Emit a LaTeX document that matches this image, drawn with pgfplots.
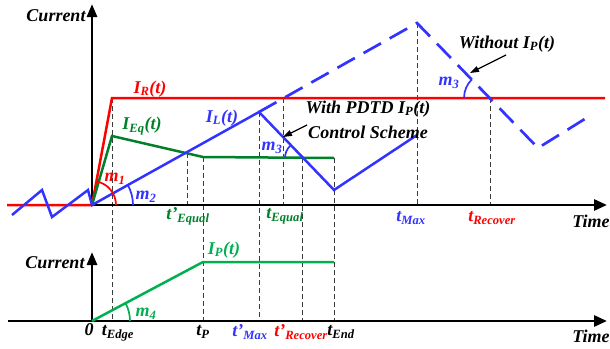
\documentclass[border=0pt]{standalone}
\usepackage{fontspec}
\setmainfont{Liberation Serif}
\usepackage{pgfplots}
\pgfplotsset{compat=1.18}
\usetikzlibrary{arrows.meta}

\definecolor{cRed}{RGB}{255,0,0}
\definecolor{cBlue}{RGB}{51,51,255}
\definecolor{cGreen}{RGB}{0,128,40}
\definecolor{cLight}{RGB}{0,176,80}
\definecolor{cGuide}{RGB}{60,60,60}

\newcommand\lab{\fontsize{18}{20}\selectfont\bfseries\itshape}
\newcommand\sbs[1]{\textsubscript{#1}}

\begin{document}
\begin{tikzpicture}
\path[use as bounding box] (0,0) rectangle (610pt,348pt);
\begin{axis}[
  at={(0,0)}, anchor=south west,
  scale only axis, width=610pt, height=348pt,
  xmin=0, xmax=610, ymin=0, ymax=348,
  y dir=reverse, hide axis, clip=false,
  guide/.style={cGuide, line width=0.9pt, dash pattern=on 5pt off 3pt},
]
% time markers
\addplot[guide] coordinates {(112,98) (112,321)};
\addplot[guide] coordinates {(187,153) (187,205)};
\addplot[guide] coordinates {(203,157) (203,321)};
\addplot[guide] coordinates {(259,112) (259,321)};
\addplot[guide] coordinates {(283,98) (283,205)};
\addplot[guide] coordinates {(302,158) (302,321)};
\addplot[guide] coordinates {(334,158) (334,321)};
\addplot[guide] coordinates {(417,23) (417,205)};
\addplot[guide] coordinates {(490,98) (490,205)};

% axes
\draw[line width=2.8pt, -{Triangle[length=13pt,width=11pt]}] (axis cs:92,205) -- (axis cs:607,205);
\draw[line width=2.8pt, -{Triangle[length=13pt,width=10pt]}] (axis cs:92,205) -- (axis cs:92,4);
\draw[line width=2.8pt, -{Triangle[length=13pt,width=11pt]}] (axis cs:8,321) -- (axis cs:607,321);
\draw[line width=2.8pt, -{Triangle[length=13pt,width=10pt]}] (axis cs:92,321) -- (axis cs:92,252);

% reference current I_R
\addplot[cRed, line width=2.5pt] coordinates {(7,205) (92,205) (112,98) (605,98)};
% equivalent current I_Eq
\addplot[cGreen, line width=2.5pt] coordinates {(92,205) (112,136) (203,157) (334,158)};
% inductor current with PDTD control
\addplot[cBlue, line width=2.5pt] coordinates {(12,215) (42,190) (52,217) (88,190) (92,205) (259,112) (334,190) (417,135)};
% inductor current without I_P
\addplot[cBlue, line width=2.7pt, dash pattern=on 20pt off 10pt] coordinates {(259,112) (417,23) (538,148) (588,117)};
% injected current I_P
\addplot[cLight, line width=2.5pt] coordinates {(92,321) (203,262) (334,262)};

% slope arcs
\draw[cRed, line width=1.7pt] (axis cs:92,205) ++(0:24pt) arc[start angle=0, end angle=79, radius=24pt];
\draw[cBlue, line width=1.7pt] (axis cs:92,205) ++(0:41pt) arc[start angle=0, end angle=29, radius=41pt];
\draw[cLight, line width=1.7pt] (axis cs:92,321) ++(0:38pt) arc[start angle=0, end angle=28, radius=38pt];
\draw[cBlue, line width=1.7pt] (axis cs:302,158) ++(180:17pt) arc[start angle=180, end angle=134, radius=17pt];
\draw[cBlue, line width=1.7pt] (axis cs:490,98) ++(180:26pt) arc[start angle=180, end angle=134, radius=26pt];

% pointers
\draw[line width=1.2pt, -{Triangle[length=9pt,width=6pt]}] (axis cs:506,55) -- (axis cs:470,73);
\draw[line width=1.2pt, -{Triangle[length=9pt,width=6pt]}] (axis cs:307,125) -- (axis cs:283,137);

% axis titles
\node at (axis cs:56,16) {\lab Current};
\node at (axis cs:55,263) {\lab Current};
\node at (axis cs:591,221) {\lab Time};
\node at (axis cs:591,336) {\lab Time};

% curve labels
\node[cRed] at (axis cs:150,89) {\lab I\sbs{R}(t)};
\node[cGreen] at (axis cs:142,126) {\lab I\sbs{Eq}(t)};
\node[cBlue] at (axis cs:222,118) {\lab I\sbs{L}(t)};
\node[cLight] at (axis cs:224,250) {\lab I\sbs{P}(t)};
\node[cRed] at (axis cs:115,179) {\lab m\sbs{1}};
\node[cBlue] at (axis cs:146,197) {\lab m\sbs{2}};
\node[cBlue] at (axis cs:272,148) {\lab m\sbs{3}};
\node[cBlue] at (axis cs:449,83) {\lab m\sbs{3}};
\node[cLight] at (axis cs:146,314) {\lab m\sbs{4}};

\node at (axis cs:507,44) {\lab Without I\sbs{P}(t)};
\node at (axis cs:368,109) {\lab With PDTD I\sbs{P}(t)};
\node at (axis cs:368,132) {\lab Control Scheme};

% time instants, upper panel
\node[cGreen] at (axis cs:188,216) {\lab t'\sbs{Equal}};
\node[cGreen] at (axis cs:285,216) {\lab t\sbs{Equal}};
\node[cBlue] at (axis cs:411,218) {\lab t\sbs{Max}};
\node[cRed] at (axis cs:492,218) {\lab t\sbs{Recover}};

% time instants, lower panel
\node at (axis cs:89,330) {\lab 0};
\node at (axis cs:118,333) {\lab t\sbs{Edge}};
\node at (axis cs:203,332) {\lab t\sbs{P}};
\node[cBlue] at (axis cs:250,332) {\lab t'\sbs{Max}};
\node[cRed] at (axis cs:301,332) {\lab t'\sbs{Recover}};
\node at (axis cs:341,332) {\lab t\sbs{End}};
\end{axis}
\end{tikzpicture}
\end{document}
